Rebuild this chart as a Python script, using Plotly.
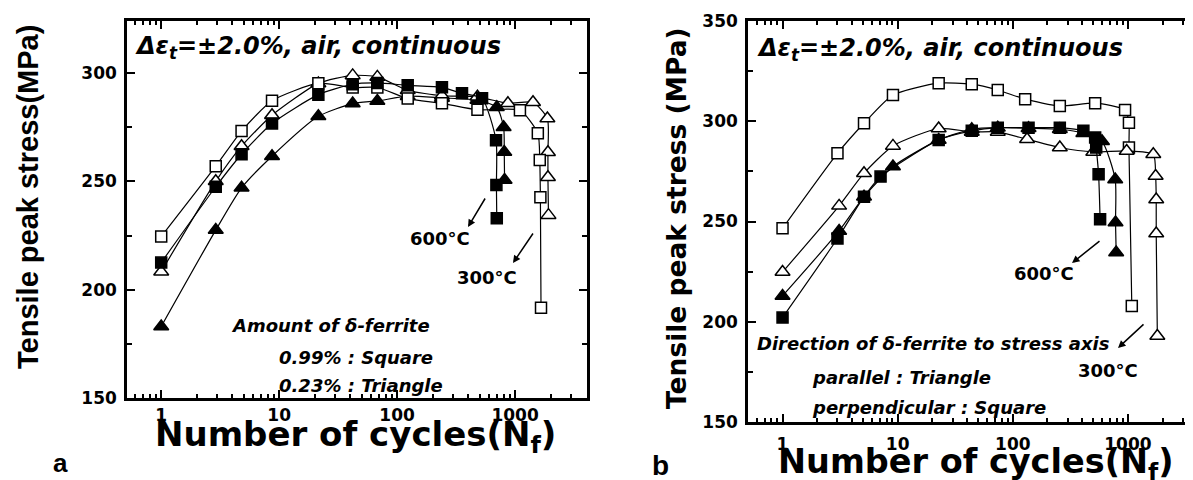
import plotly.graph_objects as go

# ---------------- data ----------------
# Panel a : amount of delta-ferrite (square 0.99 %, triangle 0.23 %)
a_sq_open_N = [1, 2.9, 4.8, 8.7, 21.5, 42, 68, 123, 240, 480, 1100, 1560, 1620, 1640, 1660]
a_sq_open_S = [224.5, 257, 273.2, 287.2, 295.3, 293.3, 293.3, 288.2, 286, 283, 282.8, 272.2, 259.8, 242.7, 191.6]

a_sq_fill_N = [1, 2.9, 4.8, 8.7, 21.5, 42, 68, 123, 240, 355, 525, 690, 695, 700]
a_sq_fill_S = [212.5, 247.5, 262.5, 276.7, 290, 294.8, 295.4, 294.3, 293.4, 290.6, 288.3, 269, 248.3, 233]

a_tri_open_N = [1, 2.9, 4.8, 8.7, 21.5, 42, 68, 123, 240, 480, 870, 1420, 1880, 1900, 1900, 1920]
a_tri_open_S = [208.3, 250, 266.2, 280.5, 295.2, 298.9, 298.2, 292, 289.5, 289, 286, 286.5, 279, 263.4, 251.9, 234.4]

a_tri_fill_N = [1, 2.9, 4.8, 8.7, 21.5, 42, 68, 123, 240, 480, 700, 800, 810, 815]
a_tri_fill_S = [183, 227.5, 247, 261.6, 280, 285.9, 287.1, 289.3, 288.5, 287.5, 284.2, 275, 263.5, 250.6]

# Panel b : direction of delta-ferrite (triangle parallel, square perpendicular)
b_sq_open_N = [1, 3.0, 5.1, 9.1, 22.7, 44, 74, 128, 256, 519, 944, 1020, 1020, 1080]
b_sq_open_S = [246.6, 284, 299, 313.1, 319, 318.5, 315.6, 311, 307.6, 309, 305.6, 299.3, 286.9, 207.9]

b_tri_open_N = [1, 3.1, 5.1, 9.1, 22.7, 44, 74, 133, 256, 500, 975, 1660, 1740, 1760, 1760, 1800]
b_tri_open_S = [224.8, 257.8, 274.1, 287.7, 296.4, 294.7, 294.7, 291, 286.9, 284.7, 285.2, 283.5, 272.7, 261, 244, 192.9]

b_sq_fill_N = [1, 3.0, 5.1, 7.1, 22.7, 44, 74, 137, 256, 410, 519, 530, 556, 573]
b_sq_fill_S = [202.1, 241.5, 262.4, 272.4, 290.7, 295.2, 296.8, 296.8, 296.8, 295.2, 291.9, 286.9, 273.6, 251.1]

b_tri_fill_N = [1, 3.1, 5.1, 9.1, 22.7, 44, 74, 137, 256, 410, 595, 775, 780, 790]
b_tri_fill_S = [212.9, 245.3, 262.4, 277.4, 290.7, 296, 296.8, 296.5, 296, 294, 290, 271, 249.5, 234.5]

x_tickvals = [1, 10, 100, 1000]
x_ticktext = ["1", "10", "100", "1000"]
ya_tickvals = [150, 200, 250, 300]
yb_tickvals = [150, 200, 250, 300, 350]

# ---------------- layout helpers ----------------
# the page body has an 8px margin, so the figure is placed at (8, 8)
OFF = 8
W, H = 1193 - OFF, 480 - OFF
def px(x):
    return (x - OFF) / W
def py(y):
    return 1 - (y - OFF) / H

fig = go.Figure()

def add_series(N, S, symbol, filled, xa, ya, size):
    fig.add_trace(go.Scatter(
        x=N, y=S, xaxis=xa, yaxis=ya, mode="lines+markers",
        line=dict(color="black", width=1.2, shape="spline", smoothing=0.6),
        marker=dict(symbol=symbol, size=size,
                    color="black" if filled else "white",
                    line=dict(color="black", width=1.5)),
        showlegend=False, cliponaxis=False))

add_series(a_tri_fill_N, a_tri_fill_S, "triangle-up", True, "x", "y", 13)
add_series(a_tri_open_N, a_tri_open_S, "triangle-up", False, "x", "y", 13)
add_series(a_sq_open_N, a_sq_open_S, "square", False, "x", "y", 11)
add_series(a_sq_fill_N, a_sq_fill_S, "square", True, "x", "y", 11)

add_series(b_sq_open_N, b_sq_open_S, "square", False, "x2", "y2", 11)
add_series(b_tri_open_N, b_tri_open_S, "triangle-up", False, "x2", "y2", 13)
add_series(b_tri_fill_N, b_tri_fill_S, "triangle-up", True, "x2", "y2", 13)
add_series(b_sq_fill_N, b_sq_fill_S, "square", True, "x2", "y2", 11)

tickfont = dict(family="DejaVu Sans", size=17, color="black", weight="bold")

def xaxis(domain, rng, anchor, standoff):
    return dict(type="log", domain=domain, range=rng, anchor=anchor, automargin=False,
                showline=True, linewidth=2.5, linecolor="black", mirror="allticks",
                ticks="inside", ticklen=8, tickwidth=2, tickcolor="black",
                tickvals=x_tickvals, ticktext=x_ticktext, tickfont=tickfont,
                ticklabelstandoff=standoff,
                minor=dict(ticks="inside", ticklen=4, tickwidth=1.5, tickcolor="black", dtick="D1"),
                showgrid=False, zeroline=False)

def yaxis(domain, rng, anchor, vals):
    return dict(domain=domain, range=rng, anchor=anchor, automargin=False,
                showline=True, linewidth=2.5, linecolor="black", mirror="allticks",
                ticks="inside", ticklen=8, tickwidth=2, tickcolor="black",
                tickvals=vals, ticktext=[str(v) for v in vals], tickfont=tickfont,
                ticklabelstandoff=4,
                minor=dict(ticks="inside", ticklen=5, tickwidth=1.5, tickcolor="black", dtick=25, tick0=150),
                showgrid=False, zeroline=False)

fig.update_layout(
    width=W, height=H, autosize=False,
    margin=dict(l=0, r=0, t=0, b=0, pad=0),
    paper_bgcolor="white", plot_bgcolor="white",
    xaxis=xaxis([px(127), px(587)], [-0.29, 3.61], "y", 0),
    yaxis=yaxis([py(398), py(21)], [150, 324], "x", ya_tickvals),
    xaxis2=xaxis([px(748), 1.0], [-0.30, 3.565], "y2", 5),
    yaxis2=yaxis([py(422), py(21)], [150, 350], "x2", yb_tickvals),
)

ann = []
def text(x, y, s, size, family="DejaVu Sans", italic=False, xanchor="center", angle=0):
    ann.append(dict(x=px(x), y=py(y), xref="paper", yref="paper", text=s, showarrow=False,
                    xanchor=xanchor, yanchor="middle", textangle=angle,
                    font=dict(family=family, size=size, color="black", weight="bold",
                              style="italic" if italic else "normal")))

def arrow(tx, ty, hx, hy):
    ann.append(dict(x=px(hx), y=py(hy), xref="paper", yref="paper", text="",
                    showarrow=True, axref="pixel", ayref="pixel",
                    ax=tx - hx, ay=ty - hy, arrowhead=2, arrowsize=1,
                    arrowwidth=1.5, arrowcolor="black"))

head = "<i>Δε</i><sub>t</sub>=±2.0%, air, continuous"
# panel a
text(133, 47, head, 24, italic=True, xanchor="left")
text(229, 325, "Amount of δ-ferrite", 18, italic=True, xanchor="left")
text(277, 357, "0.99% : Square", 18, italic=True, xanchor="left")
text(277, 385, "0.23% : Triangle", 18, italic=True, xanchor="left")
text(440, 238, "600°C", 18)
text(487, 277, "300°C", 18)
arrow(486, 197, 468, 227)
arrow(534, 232, 513, 263)
text(28, 197, "Tensile peak stress(MPa)", 29, family="Liberation Sans", angle=-90)
text(355, 436, "Number of cycles(N<sub>f</sub>)", 34)
text(60, 463, "a", 26, family="Liberation Sans")
# panel b
text(755, 50, head, 24, italic=True, xanchor="left")
text(755, 343, "Direction of δ-ferrite to stress axis", 18, italic=True, xanchor="left")
text(810, 377, "parallel : Triangle", 18, italic=True, xanchor="left")
text(810, 407, "perpendicular : Square", 18, italic=True, xanchor="left")
text(1044, 273, "600°C", 18)
text(1108, 370, "300°C", 18)
arrow(1101, 240, 1072, 263)
arrow(1145, 323, 1118, 348)
text(677, 218, "Tensile peak stress (MPa)", 26.5, angle=-90)
text(976, 464, "Number of cycles(N<sub>f</sub>)", 33.5)
text(660, 465, "b", 28, family="Liberation Sans")

fig.update_layout(annotations=ann)
fig.write_html("out.html")
